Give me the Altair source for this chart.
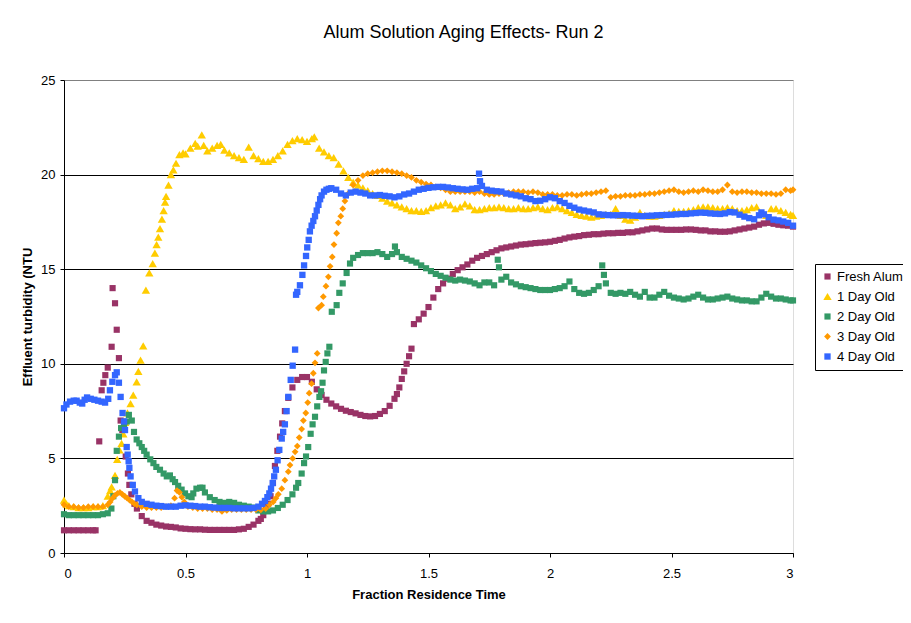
import altair as alt
import pandas as pd

SERIES = ["Fresh Alum", "1 Day Old", "2 Day Old", "3 Day Old", "4 Day Old"]
COLORS = ["#993366", "#FFCC00", "#339966", "#FF9900", "#3366FF"]
SHAPES = ["square", "triangle-up", "square", "diamond", "square"]
SIZES = [38, 70, 38, 46, 40]

fresh_x = [0, .02, .04, .06, .08, .10, .12, .13, .145, .155, .162, .17, .18, .196, .20, .21, .217, .226, .233, .24, .254, .263, .269, .277, .29, .30, .32, .34, .36, .38, .40, .42, .44, .46, .48, .50, .52, .54, .56, .58, .60, .62, .64, .66, .68, .70, .72, .74, .76, .78, .80, .81, .82, .83, .84, .85, .86, .868, .878, .889, .898, .909, .923, .94, .96, .98, 1.00, 1.02, 1.04, 1.06, 1.08, 1.10, 1.12, 1.14, 1.16, 1.18, 1.20, 1.22, 1.24, 1.26, 1.28, 1.30, 1.32, 1.34, 1.36, 1.37, 1.38, 1.39, 1.40, 1.41, 1.42, 1.43, 1.44, 1.46, 1.48, 1.50, 1.52, 1.54, 1.56, 1.58, 1.60, 1.62, 1.64, 1.66, 1.68, 1.70, 1.72, 1.74, 1.76, 1.78, 1.80, 1.82, 1.84, 1.86, 1.88, 1.90, 1.92, 1.94, 1.96, 1.98, 2.00, 2.02, 2.04, 2.06, 2.08, 2.10, 2.12, 2.14, 2.16, 2.18, 2.20, 2.22, 2.24, 2.26, 2.28, 2.30, 2.32, 2.34, 2.36, 2.38, 2.40, 2.42, 2.44, 2.46, 2.48, 2.50, 2.52, 2.54, 2.56, 2.58, 2.60, 2.62, 2.64, 2.66, 2.68, 2.70, 2.72, 2.74, 2.76, 2.78, 2.80, 2.82, 2.84, 2.86, 2.88, 2.90, 2.92, 2.94, 2.96, 2.98, 3.00]
fresh_y = [1.2, 1.2, 1.2, 1.2, 1.2, 1.2, 1.2, 1.2, 5.9, 8.6, 9.0, 9.4, 9.8, 10.9, 14.0, 13.2, 11.8, 10.3, 7.0, 6.5, 5.1, 4.2, 3.6, 3.1, 2.6, 2.35, 1.95, 1.7, 1.6, 1.5, 1.45, 1.4, 1.38, 1.35, 1.3, 1.28, 1.26, 1.25, 1.25, 1.23, 1.22, 1.22, 1.22, 1.22, 1.22, 1.22, 1.25, 1.28, 1.38, 1.5, 1.7, 1.8, 2.0, 2.3, 2.6, 3.0, 3.7, 4.6, 5.4, 6.15, 6.85, 7.5, 8.2, 8.75, 9.15, 9.3, 9.3, 9.05, 8.65, 8.35, 8.1, 7.9, 7.75, 7.62, 7.52, 7.45, 7.38, 7.3, 7.24, 7.22, 7.24, 7.35, 7.5, 7.78, 8.15, 8.4, 8.75, 9.2, 9.6, 10.0, 10.4, 10.8, 12.1, 12.35, 12.65, 13.0, 13.5, 13.95, 14.25, 14.5, 14.75, 14.95, 15.1, 15.25, 15.45, 15.6, 15.7, 15.8, 15.9, 16.0, 16.1, 16.15, 16.2, 16.25, 16.3, 16.32, 16.35, 16.38, 16.4, 16.42, 16.45, 16.5, 16.55, 16.62, 16.68, 16.72, 16.75, 16.8, 16.82, 16.85, 16.85, 16.88, 16.9, 16.9, 16.92, 16.92, 16.95, 16.95, 17.0, 17.05, 17.1, 17.15, 17.15, 17.1, 17.08, 17.08, 17.08, 17.08, 17.1, 17.1, 17.08, 17.05, 17.05, 17.0, 17.0, 16.98, 16.98, 17.0, 17.05, 17.1, 17.15, 17.2, 17.25, 17.35, 17.42, 17.45, 17.4, 17.35, 17.32, 17.3, 17.25]

day1_x = [0, .01, .02, .04, .06, .08, .10, .12, .14, .16, .18, .19, .196, .21, .219, .228, .237, .244, .252, .261, .274, .285, .299, .306, .315, .326, .337, .351, .365, .374, .381, .388, .395, .403, .41, .416, .42, .43, .44, .45, .461, .475, .49, .50, .52, .54, .55, .567, .575, .59, .61, .63, .645, .66, .68, .70, .72, .74, .76, .78, .80, .82, .84, .86, .88, .90, .92, .94, .96, .98, 1.00, 1.02, 1.03, 1.05, 1.07, 1.09, 1.11, 1.13, 1.15, 1.17, 1.19, 1.21, 1.23, 1.25, 1.27, 1.29, 1.31, 1.33, 1.35, 1.37, 1.39, 1.41, 1.43, 1.45, 1.47, 1.49, 1.51, 1.53, 1.55, 1.57, 1.59, 1.61, 1.63, 1.65, 1.67, 1.69, 1.71, 1.73, 1.75, 1.77, 1.79, 1.81, 1.83, 1.85, 1.87, 1.89, 1.91, 1.93, 1.95, 1.97, 1.99, 2.01, 2.03, 2.05, 2.07, 2.09, 2.11, 2.13, 2.15, 2.17, 2.19, 2.21, 2.23, 2.25, 2.27, 2.29, 2.31, 2.33, 2.35, 2.37, 2.39, 2.41, 2.43, 2.45, 2.47, 2.49, 2.51, 2.53, 2.55, 2.57, 2.59, 2.61, 2.63, 2.65, 2.67, 2.69, 2.71, 2.73, 2.75, 2.77, 2.79, 2.81, 2.83, 2.85, 2.87, 2.89, 2.91, 2.93, 2.95, 2.97, 2.99, 3.00]
day1_y = [2.8, 2.6, 2.5, 2.45, 2.4, 2.4, 2.4, 2.45, 2.45, 2.5, 3.0, 3.3, 3.5, 4.1, 4.95, 5.45, 5.8, 6.3, 6.9, 7.4, 7.9, 8.35, 9.05, 9.6, 10.2, 10.95, 13.9, 14.8, 15.3, 15.85, 16.3, 16.7, 17.15, 17.65, 18.1, 18.55, 18.85, 19.45, 20.0, 20.25, 20.6, 21.05, 21.15, 21.1, 21.4, 21.65, 21.5, 22.1, 21.55, 21.25, 21.4, 21.55, 21.6, 21.3, 21.15, 21.0, 20.9, 20.8, 21.45, 21.0, 20.85, 20.7, 20.7, 20.8, 21.0, 21.25, 21.6, 21.8, 21.9, 21.85, 21.75, 21.9, 22.0, 21.4, 21.2, 21.0, 20.9, 20.55, 20.2, 19.85, 19.6, 19.45, 19.3, 19.15, 19.0, 18.9, 18.75, 18.6, 18.5, 18.4, 18.3, 18.2, 18.1, 18.1, 18.05, 18.1, 18.25, 18.35, 18.4, 18.5, 18.4, 18.2, 18.3, 18.45, 18.35, 18.15, 18.15, 18.2, 18.25, 18.25, 18.3, 18.25, 18.2, 18.2, 18.25, 18.2, 18.2, 18.25, 18.3, 18.2, 18.15, 18.25, 18.3, 18.2, 18.1, 18.0, 17.9, 17.85, 17.8, 17.75, 17.8, 17.85, 17.9, 17.9, 18.2, 17.85, 17.65, 17.6, 17.75, 18.0, 17.85, 17.8, 17.8, 17.85, 17.9, 17.95, 18.1, 18.05, 18.05, 18.1, 18.15, 18.25, 18.3, 18.3, 18.25, 18.2, 18.2, 18.25, 18.2, 18.1, 18.1, 18.15, 18.25, 18.3, 17.95, 17.85, 18.2, 18.2, 18.1, 18.0, 17.9, 17.85]

day2_x = [0, .02, .04, .06, .08, .10, .12, .14, .16, .18, .195, .203, .21, .217, .226, .235, .247, .258, .267, .279, .288, .299, .31, .32, .33, .34, .355, .368, .38, .395, .41, .423, .436, .447, .457, .47, .484, .498, .512, .525, .532, .545, .56, .57, .58, .60, .62, .64, .66, .68, .70, .72, .74, .76, .78, .80, .82, .84, .86, .88, .90, .92, .94, .955, .964, .978, .988, .996, 1.005, 1.015, 1.023, 1.033, 1.042, 1.051, 1.058, 1.064, 1.07, 1.077, 1.084, 1.092, 1.102, 1.122, 1.133, 1.147, 1.163, 1.177, 1.19, 1.21, 1.23, 1.25, 1.27, 1.29, 1.31, 1.33, 1.35, 1.362, 1.37, 1.39, 1.41, 1.43, 1.45, 1.47, 1.49, 1.51, 1.53, 1.55, 1.57, 1.59, 1.61, 1.63, 1.65, 1.67, 1.69, 1.71, 1.73, 1.75, 1.77, 1.785, 1.79, 1.80, 1.82, 1.84, 1.86, 1.88, 1.90, 1.92, 1.94, 1.96, 1.98, 2.00, 2.02, 2.04, 2.06, 2.08, 2.10, 2.12, 2.14, 2.16, 2.18, 2.20, 2.215, 2.222, 2.23, 2.25, 2.27, 2.29, 2.31, 2.33, 2.35, 2.37, 2.39, 2.41, 2.43, 2.45, 2.47, 2.49, 2.51, 2.53, 2.55, 2.57, 2.59, 2.61, 2.63, 2.65, 2.67, 2.69, 2.71, 2.73, 2.75, 2.77, 2.79, 2.81, 2.83, 2.85, 2.87, 2.89, 2.91, 2.93, 2.95, 2.97, 2.99, 3.00]
day2_y = [2.05, 2.0, 2.0, 2.0, 2.0, 2.0, 2.0, 2.0, 2.05, 2.1, 2.35, 3.0, 3.85, 5.4, 6.15, 6.6, 6.8, 6.95, 7.3, 7.0, 6.4, 6.0, 5.8, 5.6, 5.4, 5.2, 4.95, 4.75, 4.55, 4.4, 4.2, 4.05, 4.1, 3.9, 3.75, 3.55, 3.35, 3.15, 3.0, 2.95, 3.15, 3.4, 3.45, 3.45, 3.2, 2.95, 2.8, 2.7, 2.65, 2.7, 2.65, 2.55, 2.5, 2.45, 2.4, 2.25, 2.2, 2.2, 2.25, 2.38, 2.55, 2.8, 3.1, 3.45, 3.7, 4.2, 4.75, 5.1, 5.6, 6.3, 6.8, 7.2, 7.75, 8.25, 8.55, 9.0, 9.65, 10.1, 10.55, 10.9, 12.75, 13.1, 13.75, 14.25, 14.8, 15.3, 15.6, 15.75, 15.85, 15.85, 15.85, 15.9, 15.8, 15.65, 15.8, 16.2, 15.9, 15.65, 15.55, 15.45, 15.35, 15.2, 15.05, 14.9, 14.75, 14.65, 14.55, 14.45, 14.4, 14.45, 14.4, 14.35, 14.25, 14.15, 14.3, 14.3, 14.15, 15.5, 15.1, 14.45, 14.6, 14.3, 14.2, 14.1, 14.05, 14.0, 13.95, 13.9, 13.9, 13.9, 13.95, 14.0, 14.1, 14.35, 13.95, 13.75, 13.7, 13.75, 13.9, 14.1, 15.2, 14.7, 14.25, 13.75, 13.7, 13.75, 13.7, 13.8, 13.65, 13.55, 13.8, 13.5, 13.5, 13.65, 13.8, 13.6, 13.5, 13.45, 13.4, 13.45, 13.55, 13.65, 13.5, 13.4, 13.4, 13.45, 13.5, 13.55, 13.45, 13.4, 13.35, 13.35, 13.3, 13.3, 13.5, 13.7, 13.55, 13.45, 13.45, 13.4, 13.35, 13.35]

day3_x = [0, .02, .04, .06, .08, .10, .12, .14, .16, .18, .19, .20, .21, .22, .23, .24, .25, .26, .27, .28, .29, .30, .32, .34, .36, .38, .40, .42, .44, .455, .465, .475, .485, .495, .51, .53, .55, .57, .59, .61, .63, .65, .67, .69, .71, .73, .75, .77, .79, .81, .83, .845, .861, .872, .882, .896, .909, .923, .93, .941, .951, .96, .968, .978, .985, .995, 1.003, 1.009, 1.019, 1.026, 1.033, 1.042, 1.047, 1.06, 1.067, 1.078, 1.088, 1.095, 1.104, 1.111, 1.122, 1.129, 1.139, 1.147, 1.156, 1.17, 1.19, 1.21, 1.23, 1.25, 1.27, 1.29, 1.31, 1.33, 1.35, 1.37, 1.39, 1.41, 1.43, 1.45, 1.47, 1.49, 1.51, 1.53, 1.55, 1.57, 1.59, 1.61, 1.63, 1.65, 1.67, 1.69, 1.71, 1.73, 1.75, 1.77, 1.79, 1.81, 1.83, 1.85, 1.87, 1.89, 1.91, 1.93, 1.95, 1.97, 1.99, 2.01, 2.03, 2.05, 2.07, 2.09, 2.11, 2.13, 2.15, 2.17, 2.19, 2.21, 2.23, 2.25, 2.27, 2.29, 2.31, 2.33, 2.35, 2.37, 2.39, 2.41, 2.43, 2.45, 2.47, 2.49, 2.51, 2.53, 2.55, 2.57, 2.59, 2.61, 2.63, 2.65, 2.67, 2.69, 2.71, 2.73, 2.75, 2.77, 2.79, 2.81, 2.83, 2.85, 2.87, 2.89, 2.91, 2.93, 2.95, 2.97, 2.99, 3.00]
day3_y = [2.55, 2.45, 2.45, 2.4, 2.4, 2.45, 2.45, 2.45, 2.45, 2.55, 2.7, 2.9, 3.05, 3.15, 3.2, 3.1, 3.0, 2.9, 2.8, 2.7, 2.6, 2.55, 2.45, 2.4, 2.4, 2.4, 2.4, 2.45, 2.5, 2.9, 3.3, 3.2, 2.95, 2.7, 2.45, 2.4, 2.35, 2.35, 2.35, 2.3, 2.3, 2.2, 2.25, 2.3, 2.3, 2.3, 2.3, 2.3, 2.3, 2.28, 2.35, 2.55, 2.7, 2.9, 3.1, 3.4, 3.85, 4.3, 4.65, 5.0, 5.35, 5.65, 6.1, 6.55, 7.0, 7.4, 7.95, 8.45, 8.95, 9.5, 10.05, 10.55, 12.95, 13.1, 13.55, 14.1, 14.6, 15.15, 15.65, 16.3, 16.9, 17.45, 17.8, 18.2, 18.6, 19.0, 19.45, 19.7, 19.95, 20.05, 20.1, 20.15, 20.2, 20.2, 20.15, 20.1, 20.05, 19.95, 19.85, 19.7, 19.6, 19.5, 19.45, 19.35, 19.3, 19.2, 19.1, 19.1, 19.1, 19.1, 19.1, 19.05, 19.1, 19.0, 18.95, 18.95, 19.0, 19.0, 19.05, 19.1, 19.1, 19.1, 19.05, 19.1, 19.05, 18.95, 18.95, 18.95, 18.9, 18.9, 18.95, 18.95, 18.9, 18.95, 19.0, 19.0, 19.05, 19.1, 19.15, 18.8, 18.85, 18.85, 18.9, 18.9, 18.9, 18.95, 18.95, 19.0, 19.0, 19.05, 19.1, 19.15, 19.2, 19.1, 19.05, 19.1, 19.15, 19.1, 19.2, 19.15, 19.1, 19.1, 19.2, 19.45, 19.1, 19.05, 19.1, 19.1, 19.05, 19.05, 19.0, 19.0, 19.0, 18.95, 19.0, 19.2, 19.15, 19.2]

day4_x = [0, .01, .025, .04, .052, .065, .075, .085, .095, .11, .125, .14, .155, .169, .182, .189, .199, .21, .217, .226, .233, .241, .247, .251, .258, .262, .266, .269, .274, .283, .292, .306, .32, .34, .36, .38, .40, .42, .44, .46, .48, .50, .52, .54, .56, .58, .60, .62, .64, .66, .68, .70, .72, .74, .76, .78, .80, .815, .827, .837, .845, .852, .859, .865, .872, .879, .886, .896, .902, .909, .916, .923, .933, .941, .951, .955, .96, .971, .981, .988, .996, 1.001, 1.007, 1.012, 1.019, 1.026, 1.033, 1.04, 1.047, 1.054, 1.06, 1.07, 1.08, 1.09, 1.10, 1.12, 1.14, 1.16, 1.18, 1.20, 1.22, 1.24, 1.26, 1.28, 1.30, 1.32, 1.34, 1.36, 1.38, 1.40, 1.42, 1.44, 1.46, 1.48, 1.50, 1.52, 1.54, 1.56, 1.58, 1.60, 1.62, 1.64, 1.66, 1.68, 1.70, 1.708, 1.712, 1.72, 1.74, 1.76, 1.78, 1.80, 1.82, 1.84, 1.86, 1.88, 1.90, 1.92, 1.94, 1.96, 1.98, 2.00, 2.02, 2.04, 2.06, 2.08, 2.10, 2.12, 2.14, 2.16, 2.18, 2.20, 2.22, 2.24, 2.26, 2.28, 2.30, 2.32, 2.34, 2.36, 2.38, 2.40, 2.42, 2.44, 2.46, 2.48, 2.50, 2.52, 2.54, 2.56, 2.58, 2.60, 2.62, 2.64, 2.66, 2.68, 2.70, 2.72, 2.74, 2.76, 2.78, 2.80, 2.82, 2.84, 2.86, 2.87, 2.88, 2.90, 2.92, 2.94, 2.96, 2.98, 3.00]
day4_y = [7.65, 7.85, 8.0, 8.05, 8.05, 7.95, 7.9, 8.1, 8.22, 8.15, 8.1, 8.05, 8.0, 7.95, 8.15, 8.6, 9.05, 9.4, 9.55, 9.0, 8.25, 7.4, 6.95, 6.5, 5.6, 5.2, 4.85, 4.5, 4.05, 3.6, 3.25, 2.9, 2.7, 2.6, 2.55, 2.5, 2.48, 2.45, 2.45, 2.45, 2.5, 2.52, 2.5, 2.48, 2.45, 2.45, 2.42, 2.4, 2.38, 2.38, 2.38, 2.36, 2.36, 2.36, 2.36, 2.38, 2.45, 2.6, 2.75, 2.95, 3.15, 3.4, 3.7, 4.05, 4.4, 4.9, 5.45, 6.05, 6.4, 6.8, 7.5, 8.25, 9.15, 9.9, 10.75, 13.65, 13.8, 14.15, 14.7, 15.2, 15.7, 16.15, 16.55, 17.0, 17.3, 17.55, 17.8, 18.1, 18.4, 18.7, 18.9, 19.1, 19.2, 19.25, 19.28, 19.2, 19.0, 18.9, 19.05, 19.1, 19.05, 19.0, 18.9, 18.9, 18.92, 18.88, 18.85, 18.8, 18.85, 18.95, 19.0, 19.1, 19.2, 19.25, 19.3, 19.33, 19.35, 19.35, 19.32, 19.28, 19.25, 19.22, 19.2, 19.25, 19.28, 20.05, 19.65, 19.4, 19.2, 19.15, 19.12, 19.1, 19.0, 18.95, 18.9, 18.85, 18.75, 18.7, 18.6, 18.62, 18.7, 18.8, 18.75, 18.6, 18.5, 18.35, 18.25, 18.15, 18.1, 18.05, 18.0, 17.9, 17.88, 17.86, 17.85, 17.85, 17.86, 17.85, 17.83, 17.82, 17.8, 17.82, 17.83, 17.85, 17.86, 17.87, 17.88, 17.9, 17.92, 17.92, 17.95, 17.97, 17.99, 17.98, 17.95, 17.93, 17.92, 17.95, 18.02, 18.0, 17.88, 17.78, 17.7, 17.64, 17.85, 18.0, 17.9, 17.75, 17.62, 17.58, 17.52, 17.45, 17.3]

X_TICKS = [0, 0.5, 1, 1.5, 2, 2.5, 3]
Y_TICKS = [0, 5, 10, 15, 20, 25]

frames = []
for name, xs, ys in zip(SERIES,
                        [fresh_x, day1_x, day2_x, day3_x, day4_x],
                        [fresh_y, day1_y, day2_y, day3_y, day4_y]):
    frames.append(pd.DataFrame({"x": xs, "y": ys, "series": name}))
df = pd.concat(frames, ignore_index=True)
df["order"] = df["series"].map({s: i for i, s in enumerate(SERIES)})

FONT = "Liberation Sans"

chart = alt.Chart(df).mark_point(filled=True, opacity=1, strokeWidth=0).encode(
    x=alt.X("x:Q", scale=alt.Scale(domain=[0, 3], nice=False, zero=False),
            axis=alt.Axis(title="Fraction Residence Time", values=X_TICKS, format="~g",
                          grid=False, domainColor="black", tickColor="black", tickSize=4,
                          labelFontSize=13, labelColor="black", labelPadding=10,
                          titleFontSize=13, titleFontWeight="bold", titleColor="black",
                          titlePadding=8, labelFont=FONT, titleFont=FONT)),
    y=alt.Y("y:Q", scale=alt.Scale(domain=[0, 25], nice=False),
            axis=alt.Axis(title="Effluent turbidity (NTU", values=Y_TICKS, format="d",
                          grid=True,
                          gridColor={"condition": {"test": "datum.value === 25", "value": "#808080"}, "value": "black"},
                          domainColor="black", tickColor="black", tickSize=4,
                          labelFontSize=13, labelColor="black", labelPadding=5,
                          titleFontSize=13, titleFontWeight="bold", titleColor="black",
                          titlePadding=6, labelFont=FONT, titleFont=FONT)),
    color=alt.Color("series:N", scale=alt.Scale(domain=SERIES, range=COLORS),
                    legend=alt.Legend(title=None, orient="none", legendX=751, legendY=184,
                                      strokeColor="black", fillColor="white", padding=6,
                                      labelFontSize=13, labelFont=FONT, labelColor="black",
                                      symbolSize=30, symbolStrokeWidth=0, rowPadding=6,
                                      labelOffset=3)),
    shape=alt.Shape("series:N", scale=alt.Scale(domain=SERIES, range=SHAPES), legend=None),
    size=alt.Size("series:N", scale=alt.Scale(type="ordinal", domain=SERIES, range=SIZES), legend=None),
    order=alt.Order("order:Q"),
).properties(
    width=729, height=473,
    padding={"left": 56, "top": 72, "right": 110, "bottom": 62},
    autosize=alt.AutoSizeParams(type="none"),
    title=alt.TitleParams("Alum Solution Aging Effects- Run 2", fontSize=18, font=FONT,
                          fontWeight="normal", color="black", anchor="middle", offset=32,
                          dx=35),
).configure_view(stroke="#808080", strokeWidth=1).configure(background="white")

chart.save("out.html", embed_options={"renderer": "svg", "actions": False})
